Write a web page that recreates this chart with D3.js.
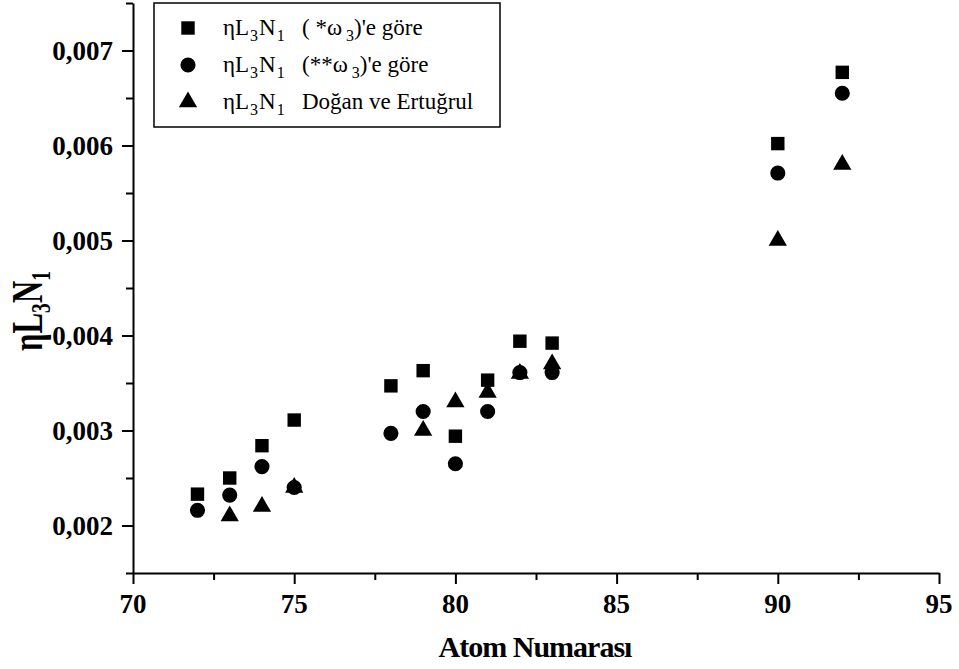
<!DOCTYPE html>
<html>
<head>
<meta charset="utf-8">
<script src="https://cdn.jsdelivr.net/npm/d3@7"></script>
<style>
  html, body { margin: 0; padding: 0; background: #fff; }
  svg { display: block; }
</style>
</head>
<body>
<svg id="chart" width="959" height="669"></svg>
<script>
// atom numbers per series
const zSquare = [72, 73, 74, 75, 78, 79, 80, 81, 82, 83, 90, 92];
const zCircle = [72, 73, 74, 75, 78, 79, 80, 81, 82, 83, 90, 92];
const zTriangle = [73, 74, 75, 79, 80, 81, 82, 83, 90, 92];

// ηL3N1 values
const etaSquare = [0.00233, 0.00250, 0.00284, 0.00311, 0.00347, 0.00363, 0.00294, 0.00353, 0.00394, 0.00392, 0.00602, 0.00677];
const etaCircle = [0.00216, 0.00232, 0.00262, 0.00240, 0.00297, 0.00320, 0.00265, 0.00320, 0.00361, 0.00361, 0.00571, 0.00655];
const etaTriangle = [0.00210, 0.00220, 0.00240, 0.00300, 0.00330, 0.00340, 0.00360, 0.00370, 0.00500, 0.00580];

const xMajor = [70, 75, 80, 85, 90, 95];
const xMinor = [72.5, 77.5, 82.5, 87.5, 92.5];
const yMajor = [0.002, 0.003, 0.004, 0.005, 0.006, 0.007];
const yMinor = [0.0015, 0.0025, 0.0035, 0.0045, 0.0055, 0.0065, 0.0075];

const series = [
  { label: ["( *ω", "3", ")'e göre"], symbol: d3.symbolSquare, size: 180, z: zSquare, v: etaSquare },
  { label: ["(**ω", "3", ")'e göre"], symbol: d3.symbolCircle, size: 180, z: zCircle, v: etaCircle },
  { label: ["Doğan ve Ertuğrul"], symbol: d3.symbolTriangle, size: 145, z: zTriangle, v: etaTriangle }
];

const SERIF = '"Liberation Serif", "Times New Roman", serif';

const svg = d3.select('#chart');
const x = d3.scaleLinear().domain([70, 95]).range([133, 939]);
const y = d3.scaleLinear().domain([0.0015, 0.0075]).range([573, 3]);

const fmt = v => d3.format('.3f')(v).replace('.', ',');

function serif(sel, size, bold) {
  sel.style('font-family', SERIF)
    .style('font-size', size + 'px')
    .style('font-weight', bold ? 'bold' : 'normal')
    .style('fill', '#000');
}

// minor ticks first
svg.append('g')
  .attr('transform', 'translate(0,573)')
  .call(d3.axisBottom(x).tickValues(xMinor).tickSize(7).tickSizeOuter(0).tickFormat(''))
  .call(g => g.select('.domain').remove());
svg.append('g')
  .attr('transform', 'translate(133,0)')
  .call(d3.axisLeft(y).tickValues(yMinor).tickSize(7).tickSizeOuter(0).tickFormat(''))
  .call(g => g.select('.domain').remove());

// major ticks, labels drawn by hand so the styling sticks
svg.append('g')
  .attr('transform', 'translate(0,573)')
  .call(d3.axisBottom(x).tickValues(xMajor).tickSize(11).tickSizeOuter(0).tickFormat(''));
svg.append('g')
  .attr('transform', 'translate(133,0)')
  .call(d3.axisLeft(y).tickValues(yMajor).tickSize(11).tickSizeOuter(0).tickFormat(''));

svg.selectAll('.domain, .tick line').attr('stroke', '#000').attr('stroke-width', 2);

svg.append('g').selectAll('text')
  .data(xMajor)
  .join('text')
  .attr('x', d => x(d))
  .attr('y', 613)
  .attr('text-anchor', 'middle')
  .call(serif, 27, true)
  .text(d3.format('d'));

svg.append('g').selectAll('text')
  .data(yMajor)
  .join('text')
  .attr('x', 113)
  .attr('y', d => y(d))
  .attr('dy', '0.34em')
  .attr('text-anchor', 'end')
  .call(serif, 27, true)
  .text(fmt);

// points
series.forEach(s => {
  const sym = d3.symbol().type(s.symbol).size(s.size);
  svg.append('g').selectAll('path')
    .data(s.z.map((z, i) => ({ z, v: s.v[i] })))
    .join('path')
    .attr('d', sym)
    .attr('transform', d => `translate(${x(d.z)},${y(d.v)})`)
    .attr('fill', '#000');
});

// legend
const leg = svg.append('g');
leg.append('rect')
  .attr('x', 154).attr('y', 3).attr('width', 346).attr('height', 124)
  .attr('fill', '#fff').attr('stroke', '#000').attr('stroke-width', 1.5);

const rowY = [28, 65, 102];
series.forEach((s, i) => {
  leg.append('path')
    .attr('d', d3.symbol().type(s.symbol).size(s.size)())
    .attr('transform', `translate(188,${rowY[i]})`);
  const base = rowY[i] + 7;
  const t = leg.append('text').attr('x', 223).attr('y', base).call(serif, 23, false);
  t.append('tspan').text('ηL');
  t.append('tspan').style('font-size', '16px').attr('dx', 1).attr('dy', 6).text('3');
  t.append('tspan').attr('dx', 1).attr('dy', -6).text('N');
  t.append('tspan').style('font-size', '16px').attr('dx', 1).attr('dy', 6).text('1');
  const t2 = leg.append('text').attr('x', 302).attr('y', base).call(serif, 23, false);
  t2.append('tspan').text(s.label[0]);
  if (s.label.length > 1) {
    t2.append('tspan').style('font-size', '16px').attr('dx', 4).attr('dy', 6).text(s.label[1]);
    t2.append('tspan').attr('dy', -6).text(s.label[2]);
  }
});

// axis titles
svg.append('text')
  .attr('x', 535).attr('y', 657)
  .attr('text-anchor', 'middle')
  .call(serif, 30, true)
  .style('letter-spacing', '-1px')
  .text('Atom Numarası');

const yt = svg.append('text')
  .attr('transform', 'translate(42,311) rotate(-90) scale(0.7,1)')
  .attr('text-anchor', 'middle')
  .call(serif, 44, true);
yt.append('tspan').text('ηL');
yt.append('tspan').style('font-size', '28px').attr('dy', 8).text('3');
yt.append('tspan').attr('dy', -8).text('N');
yt.append('tspan').style('font-size', '28px').attr('dy', 8).text('1');
</script>
</body>
</html>
